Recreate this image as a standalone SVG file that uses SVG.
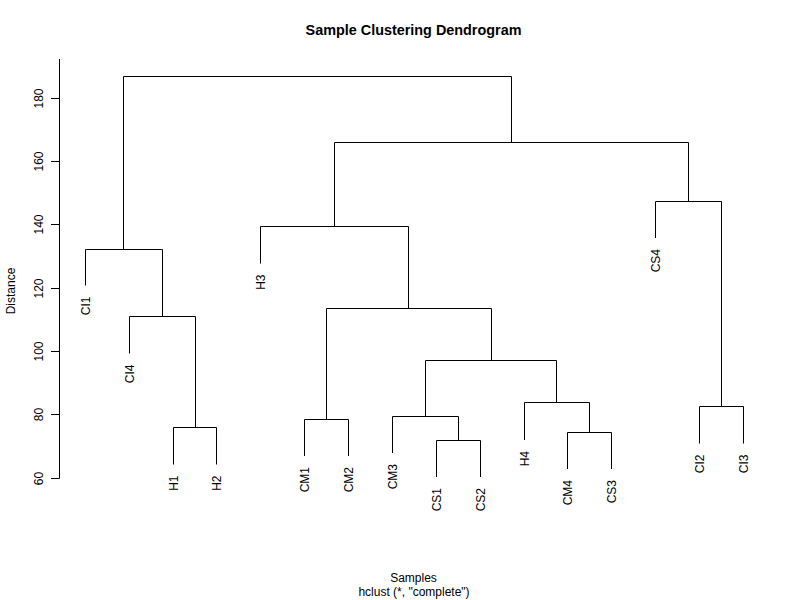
<svg xmlns="http://www.w3.org/2000/svg" width="800" height="600" viewBox="0 0 800 600">
<style>
  text { font-family: "Liberation Sans", Arial, sans-serif; fill: #000; }
  .title { font-size: 14.4px; font-weight: bold; text-anchor: middle; }
  .axt { font-size: 12px; text-anchor: middle; }
  .lbl { font-size: 12px; text-anchor: end; }
  .ln { fill: none; stroke: #000; stroke-width: 1; }
</style>
<rect width="800" height="600" fill="#fff"/>
<text class="title" x="413.5" y="35">Sample Clustering Dendrogram</text>
<g id="y-axis">
  <path class="ln" d="M59.5 59 V478.5 M51 478.5 H59.5 M51 414.5 H59.5 M51 351.5 H59.5 M51 288.5 H59.5 M51 224.5 H59.5 M51 161.5 H59.5 M51 98.5 H59.5"/>
  <text class="axt" transform="translate(42.5,478.5) rotate(-90)">60</text>
  <text class="axt" transform="translate(42.5,414.5) rotate(-90)">80</text>
  <text class="axt" transform="translate(42.5,351.5) rotate(-90)">100</text>
  <text class="axt" transform="translate(42.5,288.5) rotate(-90)">120</text>
  <text class="axt" transform="translate(42.5,224.5) rotate(-90)">140</text>
  <text class="axt" transform="translate(42.5,161.5) rotate(-90)">160</text>
  <text class="axt" transform="translate(42.5,98.5) rotate(-90)">180</text>
  <text class="axt" transform="translate(14.5,291) rotate(-90)">Distance</text>
</g>
<g id="x-axis-labels">
  <text class="axt" x="413.5" y="581.5">Samples</text>
  <text class="axt" x="414" y="595.5">hclust (*, "complete")</text>
</g>
<g id="connectors">
  <path class="ln" d="M173.5 464.5 V427.5 H216.5 V464.5"/>
  <path class="ln" d="M129.5 353.5 V316.5 H195.5 V427.5"/>
  <path class="ln" d="M85.5 285.5 V249.5 H162.5 V316.5"/>
  <path class="ln" d="M304.5 456 V419.5 H348.5 V456"/>
  <path class="ln" d="M436.5 477 V440.5 H480.5 V477"/>
  <path class="ln" d="M392.5 453 V416.5 H458.5 V440.5"/>
  <path class="ln" d="M567.5 469 V432.5 H611.5 V469"/>
  <path class="ln" d="M524.5 440 V402.5 H589.5 V432.5"/>
  <path class="ln" d="M425.5 416.5 V360.5 H556.5 V402.5"/>
  <path class="ln" d="M326.5 419.5 V308.5 H491.5 V360.5"/>
  <path class="ln" d="M260.5 263.5 V226.5 H408.5 V308.5"/>
  <path class="ln" d="M699.5 443.5 V406.5 H743.5 V443.5"/>
  <path class="ln" d="M655.5 238 V201.5 H721.5 V406.5"/>
  <path class="ln" d="M334.5 226.5 V142.5 H688.5 V201.5"/>
  <path class="ln" d="M123.5 249.5 V76.5 H511.5 V142.5"/>
</g>
<g id="leaf-CI1"><text class="lbl" transform="translate(89.5,296.5) rotate(-90)">CI1</text></g>
<g id="leaf-CI4"><text class="lbl" transform="translate(133.5,364.5) rotate(-90)">CI4</text></g>
<g id="leaf-H1"><text class="lbl" transform="translate(177.5,475.5) rotate(-90)">H1</text></g>
<g id="leaf-H2"><text class="lbl" transform="translate(220.5,475.5) rotate(-90)">H2</text></g>
<g id="leaf-H3"><text class="lbl" transform="translate(264.5,274.5) rotate(-90)">H3</text></g>
<g id="leaf-CM1"><text class="lbl" transform="translate(308.5,467) rotate(-90)">CM1</text></g>
<g id="leaf-CM2"><text class="lbl" transform="translate(352.5,467) rotate(-90)">CM2</text></g>
<g id="leaf-CM3"><text class="lbl" transform="translate(396.5,464) rotate(-90)">CM3</text></g>
<g id="leaf-CS1"><text class="lbl" transform="translate(440.5,488) rotate(-90)">CS1</text></g>
<g id="leaf-CS2"><text class="lbl" transform="translate(484.5,488) rotate(-90)">CS2</text></g>
<g id="leaf-H4"><text class="lbl" transform="translate(528.5,451) rotate(-90)">H4</text></g>
<g id="leaf-CM4"><text class="lbl" transform="translate(571.5,480) rotate(-90)">CM4</text></g>
<g id="leaf-CS3"><text class="lbl" transform="translate(615.5,480) rotate(-90)">CS3</text></g>
<g id="leaf-CS4"><text class="lbl" transform="translate(659.5,249) rotate(-90)">CS4</text></g>
<g id="leaf-CI2"><text class="lbl" transform="translate(703.5,454.5) rotate(-90)">CI2</text></g>
<g id="leaf-CI3"><text class="lbl" transform="translate(747.5,454.5) rotate(-90)">CI3</text></g>
</svg>
